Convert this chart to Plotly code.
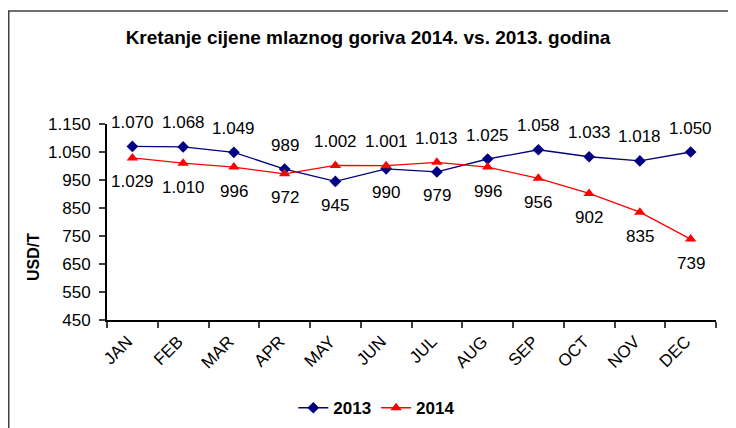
import plotly.graph_objects as go

months = ["JAN", "FEB", "MAR", "APR", "MAY", "JUN", "JUL", "AUG", "SEP", "OCT", "NOV", "DEC"]
y2013 = [1070, 1068, 1049, 989, 945, 990, 979, 1025, 1058, 1033, 1018, 1050]
y2014 = [1029, 1010, 996, 972, 1002, 1001, 1013, 996, 956, 902, 835, 739]

FONT = "Liberation Sans, Arial, sans-serif"
W, H = 728, 420          # page body has an 8px margin
L, R, T, B = 99, 20, 116, 108
PW, PH = W - L - R, H - T - B

def fmt(v):
    return f"{v:,}".replace(",", ".")

def px(xf):
    return (xf - L) / PW

def py(yf):
    return (H - B - yf) / PH

fig = go.Figure()
fig.add_trace(go.Scatter(
    x=months, y=y2013, name="<b>2013</b>", mode="lines+markers",
    line=dict(color="#000080", width=1.3),
    marker=dict(symbol="diamond", size=9, color="#000080"),
    hoverinfo="skip",
))
fig.add_trace(go.Scatter(
    x=months, y=y2014, name="<b>2014</b>", mode="lines+markers",
    line=dict(color="#FF0000", width=1.3),
    marker=dict(symbol="triangle-up", size=10, color="#FF0000"),
    hoverinfo="skip",
))

annotations = []
for i, m in enumerate(months):
    for v, other in ((y2013[i], y2014[i]), (y2014[i], y2013[i])):
        above = v >= other
        annotations.append(dict(
            x=m, y=v, xref="x", yref="y", text=fmt(v), showarrow=False,
            yshift=24 if above else -24,
            font=dict(family=FONT, size=17, color="black"),
        ))

# y-axis title
annotations.append(dict(
    x=px(25), y=py(249), xref="paper", yref="paper", text="<b>USD/T</b>",
    textangle=-90, showarrow=False, xanchor="center", yanchor="middle",
    font=dict(family=FONT, size=16, color="black"),
))

fig.update_layout(
    width=W, height=H,
    margin=dict(l=L, r=R, t=T, b=B, autoexpand=False),
    paper_bgcolor="white", plot_bgcolor="white",
    separators=",.",
    font=dict(family=FONT, size=17, color="black"),
    title=dict(
        text="<b>Kretanje cijene mlaznog goriva 2014. vs. 2013. godina</b>",
        x=(368 - 8) / W, xref="container", xanchor="center",
        y=1 - 29 / H, yref="container", yanchor="middle",
        font=dict(family=FONT, size=19, color="black"),
    ),
    xaxis=dict(
        type="category", tickson="boundaries", ticks="outside", ticklen=6,
        tickcolor="#404040", tickwidth=1.5, automargin=False,
        showline=True, linecolor="black", linewidth=2, showgrid=False,
        tickangle=-45, tickfont=dict(family=FONT, size=17, color="black"),
        ticklabelshift=-5, ticklabelstandoff=3,
        range=[-0.5, 11.5],
    ),
    yaxis=dict(
        range=[450, 1150], tick0=450, dtick=100, ticks="outside", ticklen=6,
        tickcolor="#404040", tickwidth=1.5, automargin=False,
        showline=True, linecolor="black", linewidth=2, showgrid=False,
        zeroline=False, tickformat=",d", ticklabelstandoff=5,
        tickfont=dict(family=FONT, size=17, color="black"),
    ),
    legend=dict(
        orientation="h", x=0.443, xanchor="center", y=-0.45, yanchor="middle",
        font=dict(family=FONT, size=17, color="black"),
        itemwidth=30, bgcolor="rgba(0,0,0,0)",
    ),
    annotations=annotations,
    shapes=[dict(
        type="rect", xref="paper", yref="paper",
        x0=px(0.75), x1=px(745), y0=py(440), y1=py(3),
        line=dict(color="#404040", width=1.5), fillcolor="rgba(0,0,0,0)",
        layer="below",
    )],
)

fig.write_html("out.html")
